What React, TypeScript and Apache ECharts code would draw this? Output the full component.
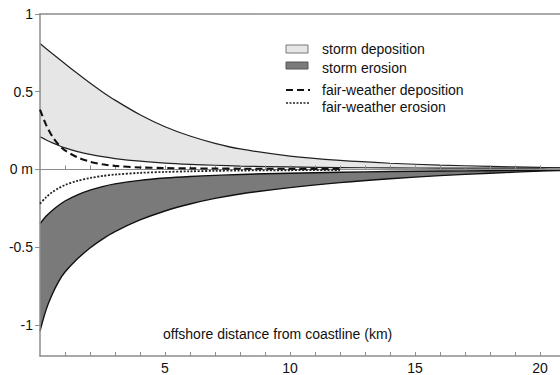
import React, { useEffect, useRef } from "react";
import * as echarts from "echarts";

// offshore distance (km)
const X = [0, 0.25, 0.5, 0.75, 1, 1.5, 2, 2.5, 3, 4, 5, 6, 7, 8, 10, 12, 14, 16, 18, 20, 20.8];
const stormDepUpper = [0.81, 0.777, 0.744, 0.712, 0.68, 0.617, 0.556, 0.499, 0.446, 0.352, 0.275, 0.215, 0.168, 0.132, 0.086, 0.058, 0.04, 0.028, 0.02, 0.013, 0.011];
const stormDepLower = [0.21, 0.19, 0.171, 0.154, 0.139, 0.115, 0.097, 0.082, 0.07, 0.053, 0.041, 0.033, 0.027, 0.022, 0.016, 0.012, 0.01, 0.009, 0.009, 0.009, 0.01];
const stormEroUpper = [-0.35, -0.3, -0.262, -0.23, -0.203, -0.163, -0.133, -0.11, -0.093, -0.07, -0.055, -0.045, -0.038, -0.032, -0.024, -0.018, -0.013, -0.01, -0.008, -0.006, -0.005];
const stormEroLower = [-1.04, -0.9, -0.8, -0.72, -0.66, -0.575, -0.505, -0.448, -0.4, -0.325, -0.267, -0.222, -0.186, -0.158, -0.117, -0.085, -0.06, -0.04, -0.024, -0.011, -0.007];

const XF = [0, 0.25, 0.5, 0.75, 1, 1.5, 2, 2.5, 3, 4, 5, 6, 7, 8, 10, 12];
const fairDep = [0.385, 0.285, 0.21, 0.158, 0.122, 0.078, 0.05, 0.033, 0.023, 0.013, 0.009, 0.007, 0.006, 0.005, 0.004, 0.003];
const fairEro = [-0.22, -0.178, -0.145, -0.12, -0.1, -0.073, -0.055, -0.042, -0.033, -0.022, -0.016, -0.012, -0.009, -0.007, -0.005, -0.004];

const yTicks = [-1, -0.5, 0, 0.5, 1];
const xMinorTicks = [1, 2, 3, 4, 5, 6, 7, 8, 9, 10, 11, 12, 13, 14, 15, 16, 17, 18, 19, 20];
const xLabels = [5, 10, 15, 20];

const legendItems = ["storm deposition", "storm erosion", "fair-weather deposition", "fair-weather erosion"];
const axisTitle = "offshore distance from coastline (km)";

const FONT = '"Liberation Sans", Arial, Helvetica, sans-serif';
const AXIS = "#8c8c8c";
const TEXT = "#111";
const LIGHT = "#e6e6e6";
const DARK = "#7a7a7a";

const pairs = (xs: number[], ys: number[]) => xs.map((x, i) => [x, ys[i]]);

export default function App() {
  const ref = useRef<HTMLDivElement>(null);
  useEffect(() => {
    if (!ref.current) return;
    const chart = echarts.init(ref.current, undefined, { renderer: "svg" });
    const grid = { left: 40, right: 0, top: 14, bottom: 19 };
    const lineBase = {
      type: "line",
      xAxisIndex: 0,
      yAxisIndex: 0,
      showSymbol: false,
      symbol: "none",
      smooth: 0.3,
      silent: true,
    };
    const option: any = {
      animation: false,
      grid: [grid, { ...grid }],
      xAxis: [
        {
          gridIndex: 0,
          type: "value",
          min: 0,
          max: 20.8,
          position: "bottom",
          z: 3,
          axisLine: { onZero: true, lineStyle: { color: AXIS, width: 1.2 } },
          axisTick: { show: true, inside: true, length: 4, customValues: xMinorTicks, lineStyle: { color: AXIS } },
          axisLabel: { show: false },
          splitLine: { show: false },
        },
        {
          gridIndex: 0,
          type: "value",
          min: 0,
          max: 20.8,
          position: "top",
          z: 3,
          axisLine: { onZero: false, lineStyle: { color: AXIS, width: 1.5 } },
          axisTick: { show: false },
          axisLabel: { show: false },
          splitLine: { show: false },
        },
        {
          gridIndex: 1,
          type: "value",
          min: 0,
          max: 20.8,
          position: "bottom",
          z: 3,
          axisLine: { onZero: false, lineStyle: { color: AXIS, width: 1.5 } },
          axisTick: { show: true, inside: true, length: 4, customValues: xMinorTicks, lineStyle: { color: AXIS } },
          axisLabel: {
            show: true,
            customValues: xLabels,
            margin: 5,
            color: TEXT,
            fontSize: 14,
            fontFamily: FONT,
            formatter: (v: number) => String(v),
          },
          splitLine: { show: false },
        },
      ],
      yAxis: [
        {
          gridIndex: 0,
          type: "value",
          min: -1.2,
          max: 1,
          z: 3,
          axisLine: { show: true, onZero: false, lineStyle: { color: AXIS, width: 1.5 } },
          axisTick: { show: true, inside: false, length: 5, customValues: yTicks, lineStyle: { color: AXIS } },
          axisLabel: {
            show: true,
            customValues: yTicks,
            margin: 7,
            color: TEXT,
            fontSize: 14,
            fontFamily: FONT,
            formatter: (v: number) => (v === 0 ? "0 m" : String(v)),
          },
          splitLine: { show: false },
        },
        {
          gridIndex: 1,
          type: "value",
          min: -1.2,
          max: 1,
          show: false,
        },
      ],
      series: [
        {
          ...lineBase,
          name: "sdU",
          data: pairs(X, stormDepUpper),
          lineStyle: { color: "#222", width: 1.2 },
          areaStyle: { color: LIGHT, opacity: 1, origin: 0 },
          z: 1,
        },
        {
          ...lineBase,
          name: "seL",
          data: pairs(X, stormEroLower),
          lineStyle: { color: "#111", width: 1.4 },
          areaStyle: { color: DARK, opacity: 1, origin: 0 },
          z: 1,
        },
        {
          ...lineBase,
          name: "sdL",
          data: pairs(X, stormDepLower),
          lineStyle: { color: "#222", width: 1.2 },
          areaStyle: { color: "#ffffff", opacity: 1, origin: 0 },
          z: 2,
        },
        {
          ...lineBase,
          name: "seU",
          data: pairs(X, stormEroUpper),
          lineStyle: { color: "#111", width: 1.4 },
          areaStyle: { color: "#ffffff", opacity: 1, origin: 0 },
          z: 2,
        },
        {
          ...lineBase,
          name: "fwd",
          data: pairs(XF, fairDep),
          lineStyle: { color: "#111", width: 2.1, type: [7, 4] },
          z: 4,
        },
        {
          ...lineBase,
          name: "fwe",
          data: pairs(XF, fairEro),
          lineStyle: { color: "#222", width: 1.8, type: [2, 1.6] },
          z: 4,
        },
      ],
      graphic: [
        { type: "rect", shape: { x: 286, y: 45, width: 22, height: 8 }, style: { fill: LIGHT, stroke: "#777", lineWidth: 1 } },
        { type: "text", x: 322, y: 49, style: { text: legendItems[0], fill: TEXT, fontSize: 14, fontFamily: FONT, verticalAlign: "middle" } },
        { type: "rect", shape: { x: 286, y: 62, width: 22, height: 7 }, style: { fill: DARK, stroke: "#555", lineWidth: 1 } },
        { type: "text", x: 322, y: 68, style: { text: legendItems[1], fill: TEXT, fontSize: 14, fontFamily: FONT, verticalAlign: "middle" } },
        { type: "line", shape: { x1: 286, y1: 90, x2: 310, y2: 90 }, style: { stroke: "#111", lineWidth: 2, lineDash: [7, 4] } },
        { type: "text", x: 322, y: 90, style: { text: legendItems[2], fill: TEXT, fontSize: 14, fontFamily: FONT, verticalAlign: "middle" } },
        { type: "line", shape: { x1: 286, y1: 103, x2: 310, y2: 103 }, style: { stroke: "#222", lineWidth: 1.5, lineDash: [2, 1.5] } },
        { type: "text", x: 322, y: 107, style: { text: legendItems[3], fill: TEXT, fontSize: 14, fontFamily: FONT, verticalAlign: "middle" } },
        { type: "text", x: 163, y: 334, style: { text: axisTitle, fill: TEXT, fontSize: 14, fontFamily: FONT, verticalAlign: "middle" } },
      ],
    };
    chart.setOption(option);
    return () => chart.dispose();
  }, []);
  return (
    <div
      ref={ref}
      style={{ position: "fixed", left: 0, top: 0, width: 560, height: 375, background: "#fff" }}
    />
  );
}
